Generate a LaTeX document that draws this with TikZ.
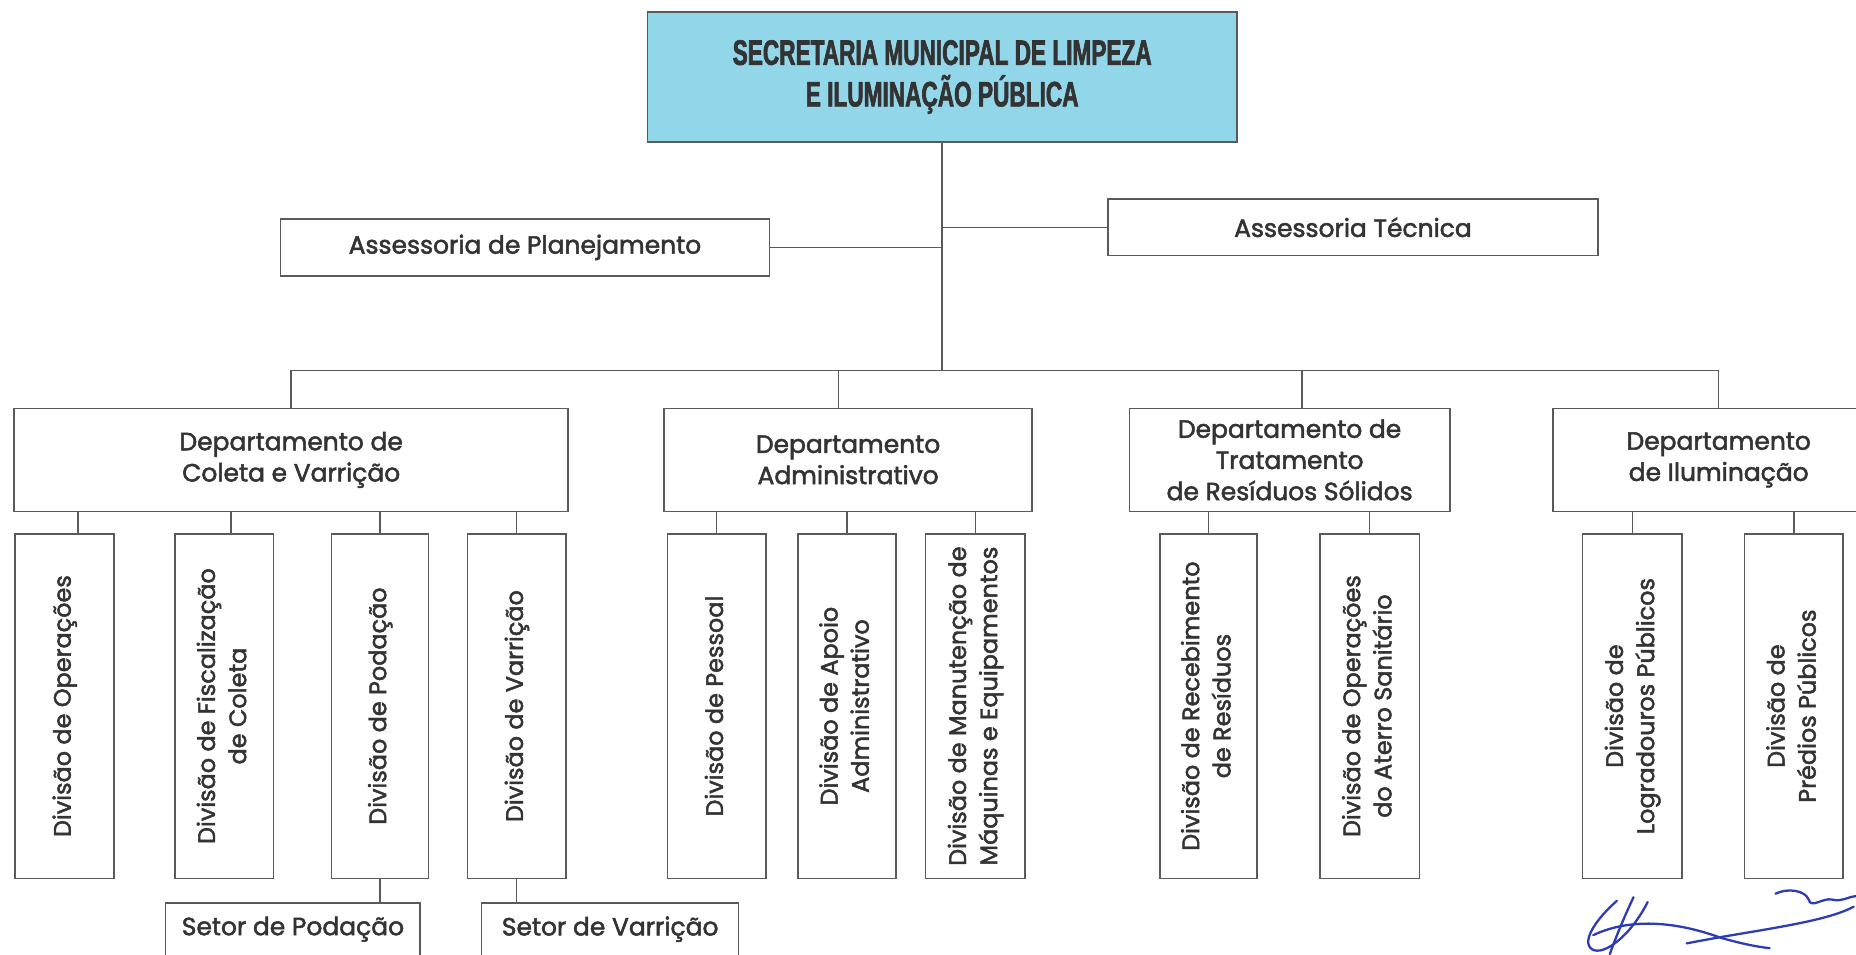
\documentclass[tikz,border=0pt]{standalone}
\usepackage{fontspec}
\setmainfont{Poppins}[FakeBold=2]
\newfontfamily\titlefont{Liberation Sans}[FakeStretch=0.64,FakeBold=1.8]
\definecolor{ink}{HTML}{333333}
\definecolor{rulec}{HTML}{5A5A5A}
\definecolor{topfill}{RGB}{146,214,234}
\definecolor{sigblue}{RGB}{45,60,180}
\newcommand\vtext[1]{\rotatebox{90}{\begin{tabular}{@{}c@{}}#1\end{tabular}}}
\tikzset{
  box/.style={draw=rulec, line width=0.7pt, rectangle, inner sep=0pt, outer sep=0pt,
    text=ink, align=center, font=\fontsize{12}{15}\selectfont},
  deptbox/.style={box, minimum height=87*0.02cm},
  divbox/.style={box, minimum height=291*0.02cm, font=\fontsize{11.5}{15}\selectfont},
  conn/.style={draw=rulec, line width=0.7pt},
  sig/.style={draw=sigblue, line width=1.1pt, line cap=round, line join=round}
}
\begin{document}
\begin{tikzpicture}[x=0.02cm,y=-0.02cm]
\clip (0,0) rectangle (1568,806);
\fill[white] (0,0) rectangle (1568,806);
\coordinate (busY) at (0,313);

% top
\node[box, fill=topfill, minimum width=498*0.02cm, minimum height=110*0.02cm,
  font=\titlefont\bfseries\fontsize{17}{20}\selectfont] (top) at (796,65)
  {SECRETARIA MUNICIPAL DE LIMPEZA\\E ILUMINAÇÃO PÚBLICA};

% advisory
\node[box, minimum width=413*0.02cm, minimum height=48*0.02cm] (pl) at (443.5,209) {Assessoria de Planejamento};
\node[box, minimum width=414*0.02cm, minimum height=48*0.02cm] (tec) at (1143,192) {Assessoria Técnica};

% departments
\node[deptbox, minimum width=468*0.02cm] (dColeta) at (246,388.5) {Departamento de\\Coleta e Varrição};
\node[deptbox, minimum width=311*0.02cm] (dAdm) at (716.5,388.5) {Departamento\\Administrativo};
\node[deptbox, minimum width=271*0.02cm] (dTrat) at (1089.5,388.5) {Departamento de\\Tratamento\\de Resíduos Sólidos};
\node[deptbox, minimum width=280*0.02cm] (dIlum) at (1452,388.5) {Departamento\\de Iluminação};

% divisions
\node[divbox, minimum width=84*0.02cm] (vOp) at (54.5,596.5) {\vtext{Divisão de Operações}};
\node[divbox, minimum width=83*0.02cm] (vFisc) at (189.5,596.5) {\vtext{Divisão de Fiscalização\\de Coleta}};
\node[divbox, minimum width=82*0.02cm] (vPod) at (321,596.5) {\vtext{Divisão de Podação}};
\node[divbox, minimum width=83*0.02cm] (vVar) at (436.5,596.5) {\vtext{Divisão de Varrição}};
\node[divbox, minimum width=83*0.02cm] (vPes) at (605.5,596.5) {\vtext{Divisão de Pessoal}};
\node[divbox, minimum width=83*0.02cm] (vApo) at (715.5,596.5) {\vtext{Divisão de Apoio\\Administrativo}};
\node[divbox, minimum width=84*0.02cm] (vMan) at (824,596.5) {\vtext{Divisão de Manutenção de\\Máquinas e Equipamentos}};
\node[divbox, minimum width=82*0.02cm] (vRec) at (1021,596.5) {\vtext{Divisão de Recebimento\\de Resíduos}};
\node[divbox, minimum width=84*0.02cm] (vAte) at (1157,596.5) {\vtext{Divisão de Operações\\do Aterro Sanitário}};
\node[divbox, minimum width=84*0.02cm] (vLog) at (1379,596.5) {\vtext{Divisão de\\Logradouros Públicos}};
\node[divbox, minimum width=83*0.02cm] (vPre) at (1515.5,596.5) {\vtext{Divisão de\\Prédios Públicos}};

% sectors
\node[box, minimum width=215*0.02cm, minimum height=44*0.02cm] (sPod) at (247.5,785) {Setor de Podação};
\node[box, minimum width=217*0.02cm, minimum height=44*0.02cm] (sVar) at (515.5,785) {Setor de Varrição};

% connectors
\draw[conn] (top.south) -- (top.south |- busY);
\draw[conn] (pl.east) -- (pl.east -| top.south);
\draw[conn] (tec.west) -- (tec.west -| top.south);
\draw[conn] (dColeta.north) |- (dIlum.north |- busY) -- (dIlum.north);
\draw[conn] ([xshift=-0.16cm]dAdm.north) -- ([xshift=-0.16cm]dAdm.north |- busY);
\draw[conn] ([xshift=0.21cm]dTrat.north) -- ([xshift=0.21cm]dTrat.north |- busY);

\draw[conn] ([xshift=0.23cm]vOp.north) -- ([xshift=0.23cm]vOp.north |- dColeta.south);
\draw[conn] ([xshift=0.11cm]vFisc.north) -- ([xshift=0.11cm]vFisc.north |- dColeta.south);
\draw[conn] (vPod.north) -- (vPod.north |- dColeta.south);
\draw[conn] (vVar.north) -- (vVar.north |- dColeta.south);
\draw[conn] (vPes.north) -- (vPes.north |- dAdm.south);
\draw[conn] (vApo.north) -- (vApo.north |- dAdm.south);
\draw[conn] (vMan.north) -- (vMan.north |- dAdm.south);
\draw[conn] (vRec.north) -- (vRec.north |- dTrat.south);
\draw[conn] (vAte.north) -- (vAte.north |- dTrat.south);
\draw[conn] (vLog.north) -- (vLog.north |- dIlum.south);
\draw[conn] (vPre.north) -- (vPre.north |- dIlum.south);
\draw[conn] (vPod.south) -- (vPod.south |- sPod.north);
\draw[conn] (vVar.south) -- (vVar.south |- sVar.north);

% signature
\draw[sig] (1366,761) .. controls (1350,775) and (1335,795) .. (1345,802) .. controls (1355,808) and (1378,790) .. (1392,762);
\draw[sig] (1380,758) .. controls (1372,775) and (1365,792) .. (1360,806);
\draw[sig] (1346,790) .. controls (1380,774) and (1420,780) .. (1453,792) .. controls (1470,797) and (1485,800) .. (1495,801);
\draw[sig] (1425,797) .. controls (1480,786) and (1540,780) .. (1566,766);
\draw[sig] (1500,755) .. controls (1510,750) and (1525,752) .. (1528,760) .. controls (1530,768) and (1540,758) .. (1548,760) .. controls (1556,762) and (1560,758) .. (1568,757);
\end{tikzpicture}
\end{document}
